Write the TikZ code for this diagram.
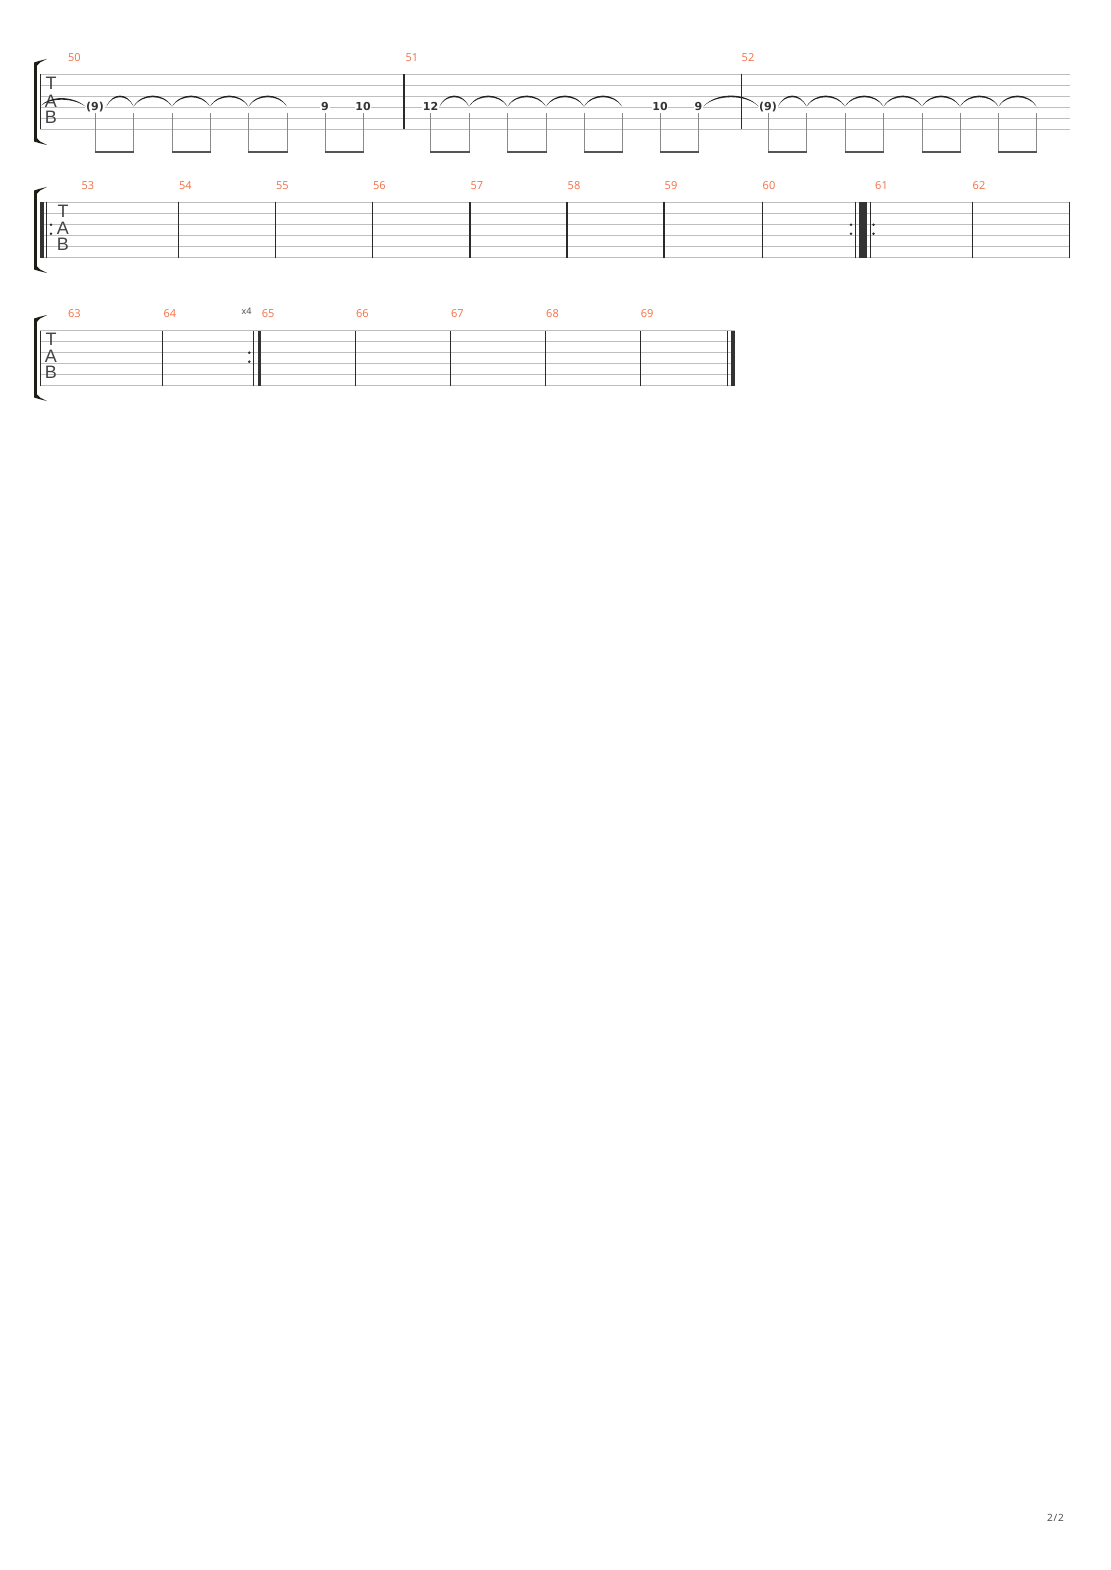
\documentclass[tikz,border=0pt]{standalone}
\usepackage{fontspec}
\setmainfont{Open Sans}
\newfontfamily\numfam{Open Sans}
\newfontfamily\fretfam{DejaVu Sans}
\newfontfamily\tabfam{Liberation Sans}
\newfontfamily\pagefam{Open Sans}[LetterSpace=8.0]
\definecolor{staffc}{HTML}{BEBEBE}
\definecolor{barc}{HTML}{2A2A2A}
\definecolor{thickc}{HTML}{333333}
\definecolor{mnumc}{HTML}{F36E43}
\definecolor{fretc}{HTML}{333333}
\definecolor{tabc}{HTML}{444444}
\definecolor{stemc}{HTML}{8A8A8A}
\definecolor{beamc}{HTML}{555555}
\definecolor{tiec}{HTML}{222222}
\definecolor{brc}{HTML}{1E1E14}
\newcommand\mnumfont{\numfam\fontsize{11}{12}\selectfont}
\newcommand\fretfont{\fretfam\bfseries\fontsize{11}{13}\selectfont}
\newcommand\tabfont{\tabfam\fontsize{18}{19}\selectfont}
\newcommand\stafflines[3]{%
  \foreach \k in {0,...,5} {\draw[staffline] (#2,{#1+11*\k}) -- (#3,{#1+11*\k});}}
\newcommand\barln[2]{\draw[barline] (#2,#1) -- (#2,{#1+55});}
\newcommand\thickbarln[3]{\fill[thickc] (#2,#1) rectangle (#3,{#1+55});}
\newcommand\repdots[2]{\fill[barc] (#2,{#1+22.2}) circle (1.4); \fill[barc] (#2,{#1+31.2}) circle (1.4);}
\newcommand\bracketmark[1]{%
  \fill[brc] (34,{#1-11}) rectangle (37.3,{#1+66});
  \fill[brc] (34,{#1-9}) -- (34,{#1-12}) -- (40,{#1-13.8}) -- (47,{#1-15.5}) -- (40,{#1-12}) -- (37.3,{#1-9}) -- cycle;
  \fill[brc] (34,{#1+64}) -- (34,{#1+67}) -- (40,{#1+68.8}) -- (47,{#1+70.5}) -- (40,{#1+67}) -- (37.3,{#1+64}) -- cycle;}
\newcommand\tiearc[3]{%
  \fill[tiec] (#1,#3) .. controls ({#1+0.22*(#2-#1)},{#3-14.5}) and ({#2-0.22*(#2-#1)},{#3-14.5}) .. (#2,#3)
    .. controls ({#2-0.22*(#2-#1)},{#3-12.4}) and ({#1+0.22*(#2-#1)},{#3-12.4}) .. (#1,#3) -- cycle;}
\newcommand\beampair[2]{%
  \draw[stemln] (#1,113) -- (#1,152); \draw[stemln] (#2,113) -- (#2,152);
  \draw[beamln] ({#1-0.5},152.2) -- ({#2+0.5},152.2);}
\tikzset{
  staffline/.style={draw=staffc, line width=1pt},
  barline/.style={draw=barc, line width=1.3pt},
  mnum/.style={text=mnumc, font=\mnumfont, anchor=west, inner sep=0pt},
  fret/.style={text=fretc, font=\fretfont, fill=white, inner sep=0.8pt, anchor=base},
  tabletter/.style={text=tabc, font=\tabfont, inner sep=0pt},
  stemln/.style={draw=stemc, line width=1pt},
  beamln/.style={draw=beamc, line width=2.4pt},
}
\begin{document}
\begin{tikzpicture}[x=1pt,y=-1pt]
\useasboundingbox (0,0) rectangle (1110,1570);
\fill[white] (0,0) rectangle (1110,1570);

% ================= System 1 =================
\stafflines{74.5}{40}{1069.5}
\bracketmark{74.5}
\barln{74.5}{40.5}
\barln{74.5}{404}
\barln{74.5}{741.5}
\node[tabletter] (t1) at (51,83) {T};
\node[tabletter] (a1) at (51,101.2) {A};
\node[tabletter] (b1) at (51,117.2) {B};
\node[mnum] (m50) at (68,58) {50};
\node[mnum] (m51) at (405.5,58) {51};
\node[mnum] (m52) at (741.5,58) {52};

% stems and beams
\beampair{95}{133.5}
\beampair{172}{210}
\beampair{248.5}{287}
\beampair{325}{363}
\beampair{430.5}{469}
\beampair{507.5}{546}
\beampair{584}{622}
\beampair{660}{698.5}
\beampair{768}{806.5}
\beampair{845}{883.5}
\beampair{922}{960}
\beampair{998.5}{1036.5}

% fret numbers
\node[fret] (f1) at (95,110.5) {(9)};
\node[fret] (f2) at (325,110.5) {9};
\node[fret] (f3) at (363,110.5) {10};
\node[fret] (f4) at (430.5,110.5) {12};
\node[fret] (f5) at (660,110.5) {10};
\node[fret] (f6) at (698.5,110.5) {9};
\node[fret] (f7) at (768,110.5) {(9)};

% ties
\fill[tiec] (41,105.5) .. controls (50,96) and (72,95) .. (85.5,106.5)
  .. controls (72,97.2) and (51,98) .. (41,105.5) -- cycle;
\tiearc{106.5}{133.5}{106.5}
\tiearc{133.5}{172}{106.5}
\tiearc{172}{210}{106.5}
\tiearc{210}{248.5}{106.5}
\tiearc{248.5}{287}{106.5}
\tiearc{439.5}{469}{106.5}
\tiearc{469}{507.5}{106.5}
\tiearc{507.5}{546}{106.5}
\tiearc{546}{584}{106.5}
\tiearc{584}{622}{106.5}
\tiearc{703.5}{758.5}{106.5}
\tiearc{778}{806.5}{106.5}
\tiearc{806.5}{845}{106.5}
\tiearc{845}{883.5}{106.5}
\tiearc{883.5}{922}{106.5}
\tiearc{922}{960}{106.5}
\tiearc{960}{998.5}{106.5}
\tiearc{998.5}{1036.5}{106.5}

% ================= System 2 =================
\stafflines{202.5}{40}{1070}
\bracketmark{202.5}
\thickbarln{202.5}{39.5}{43.5}
\barln{202.5}{46.5}
\repdots{202.5}{51}
\node[tabletter] (t2) at (63,211.5) {T};
\node[tabletter] (a2) at (63,228) {A};
\node[tabletter] (b2) at (63,244.5) {B};
\foreach \bx in {178.3,275.5,372.5,470,567,664,762.3,972.3,1069.5} {\barln{202.5}{\bx}}
\repdots{202.5}{851}
\barln{202.5}{855.3}
\thickbarln{202.5}{859}{866.7}
\barln{202.5}{870.3}
\repdots{202.5}{873.5}
\node[mnum] (m53) at (81.5,186) {53};
\node[mnum] (m54) at (179,186) {54};
\node[mnum] (m55) at (276,186) {55};
\node[mnum] (m56) at (373,186) {56};
\node[mnum] (m57) at (470.5,186) {57};
\node[mnum] (m58) at (567.5,186) {58};
\node[mnum] (m59) at (664.5,186) {59};
\node[mnum] (m60) at (762.5,186) {60};
\node[mnum] (m61) at (875,186) {61};
\node[mnum] (m62) at (972.5,186) {62};

% ================= System 3 =================
\stafflines{330.5}{40}{734.5}
\bracketmark{330.5}
\barln{330.5}{40.5}
\node[tabletter] (t3) at (51,339.5) {T};
\node[tabletter] (a3) at (51,356) {A};
\node[tabletter] (b3) at (51,372.5) {B};
\foreach \bx in {162.7,355.3,450.3,545.3,640.3} {\barln{330.5}{\bx}}
\repdots{330.5}{249.3}
\barln{330.5}{253.7}
\thickbarln{330.5}{257.5}{261}
\barln{330.5}{727.3}
\thickbarln{330.5}{731}{734.5}
\node[text=tabc, font=\numfam\fontsize{9}{10}\selectfont, inner sep=0pt] (rep) at (246.5,311.5) {x4};
\node[mnum] (m63) at (68,314) {63};
\node[mnum] (m64) at (163.3,314) {64};
\node[mnum] (m65) at (261.7,314) {65};
\node[mnum] (m66) at (356,314) {66};
\node[mnum] (m67) at (451,314) {67};
\node[mnum] (m68) at (546,314) {68};
\node[mnum] (m69) at (640.7,314) {69};

% page number
\node[text=tabc, font=\pagefam\fontsize{10}{11}\selectfont, inner sep=0pt] (pg) at (1055.5,1518) {2/2};
\end{tikzpicture}
\end{document}
